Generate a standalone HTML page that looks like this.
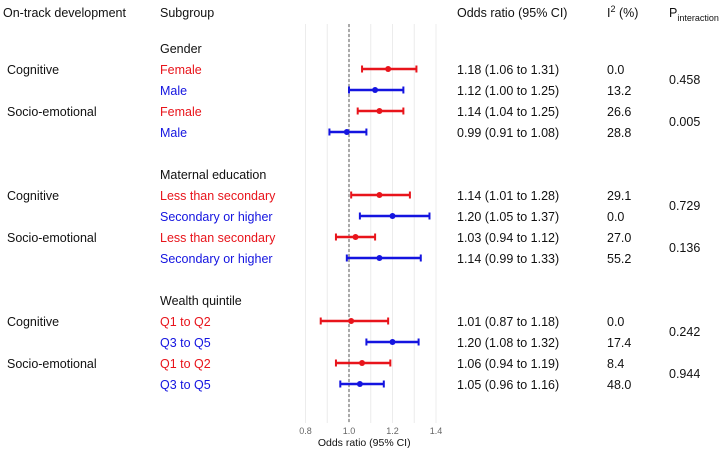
<!DOCTYPE html>
<html><head><meta charset="utf-8"><style>
body{margin:0;background:#fff;width:721px;height:449px;overflow:hidden}
svg text{font-family:"Liberation Sans",Arial,sans-serif;font-size:12.5px;fill:#111}
</style></head><body>
<svg id="chart" width="721" height="449" viewBox="0 0 721 449" xmlns="http://www.w3.org/2000/svg">
<g id="grid"></g>
<g id="heads">
<text x="3" y="17">On-track development</text>
<text x="160" y="17">Subgroup</text>
<text x="457" y="17">Odds ratio (95% CI)</text>
<text x="607" y="17">I<tspan dy="-5" font-size="9">2</tspan><tspan dy="5"> (%)</tspan></text>
<text x="669" y="17">P<tspan dy="4" font-size="9">interaction</tspan></text>
</g>
<g id="rows"></g>
<g id="marks"></g>
<g id="axis"></g>
</svg>
<script>
const labels=["Female","Male","Female","Male","Less than secondary","Secondary or higher","Less than secondary","Secondary or higher","Q1 to Q2","Q3 to Q5","Q1 to Q2","Q3 to Q5"];
const orValues=[1.18,1.12,1.14,0.99,1.14,1.20,1.03,1.14,1.01,1.20,1.06,1.05];
const lowerCI=[1.06,1.00,1.04,0.91,1.01,1.05,0.94,0.99,0.87,1.08,0.94,0.96];
const upperCI=[1.31,1.25,1.25,1.08,1.28,1.37,1.12,1.33,1.18,1.32,1.19,1.16];
const orText=["1.18 (1.06 to 1.31)","1.12 (1.00 to 1.25)","1.14 (1.04 to 1.25)","0.99 (0.91 to 1.08)","1.14 (1.01 to 1.28)","1.20 (1.05 to 1.37)","1.03 (0.94 to 1.12)","1.14 (0.99 to 1.33)","1.01 (0.87 to 1.18)","1.20 (1.08 to 1.32)","1.06 (0.94 to 1.19)","1.05 (0.96 to 1.16)"];
const i2Values=["0.0","13.2","26.6","28.8","29.1","0.0","27.0","55.2","0.0","17.4","8.4","48.0"];
const groups=["Gender","Maternal education","Wealth quintile"];
const outcomes=["Cognitive","Socio-emotional"];
const pValues=["0.458","0.005","0.729","0.136","0.242","0.944"];
const ticks=[0.8,1.0,1.2,1.4];
const gridVals=[0.8,0.9,1.0,1.1,1.2,1.3,1.4];

const NS="http://www.w3.org/2000/svg";
const x=v=>349+(v-1)*217.5;
const rowY=i=>{const g=Math.floor(i/4),k=i%4;return 69+g*126+k*21;};
function mk(tag,attrs,parent,txt){const e=document.createElementNS(NS,tag);for(const k in attrs)e.setAttribute(k,attrs[k]);if(txt!==undefined)e.textContent=txt;parent.appendChild(e);return e;}
const grid=document.getElementById('grid'),rows=document.getElementById('rows'),marks=document.getElementById('marks'),axis=document.getElementById('axis');
gridVals.forEach(v=>{const l=mk('line',{x1:x(v),x2:x(v),y1:24,y2:423,stroke:'#ececec','stroke-width':1},grid);

});
const ref=mk('line',{x1:x(1),x2:x(1),y1:24,y2:423,stroke:'#555','stroke-width':1,'stroke-dasharray':'3,2'},grid);


groups.forEach((g,gi)=>{const t=mk('text',{x:160,y:53+gi*126},rows,g);

});
for(let j=0;j<6;j++){const y0=rowY(j*2);
const t=mk('text',{x:7,y:y0+5},rows,outcomes[j%2]);


const p=mk('text',{x:669,y:y0+15},rows,pValues[j]);

}
labels.forEach((lab,i)=>{const y=rowY(i),c=i%2===0?'#e8141b':'#1414e0';
const t=mk('text',{x:160,y:y+5,style:'fill:'+c},rows,lab);


const o=mk('text',{x:457,y:y+5},rows,orText[i]);


const q=mk('text',{x:607,y:y+5},rows,i2Values[i]);


const g=mk('g',{},marks);


mk('line',{x1:x(lowerCI[i]),x2:x(upperCI[i]),y1:y,y2:y,stroke:c,'stroke-width':2.5},g);
mk('line',{x1:x(lowerCI[i]),x2:x(lowerCI[i]),y1:y-3.5,y2:y+3.5,stroke:c,'stroke-width':2},g);
mk('line',{x1:x(upperCI[i]),x2:x(upperCI[i]),y1:y-3.5,y2:y+3.5,stroke:c,'stroke-width':2},g);
mk('circle',{cx:x(orValues[i]),cy:y,r:3,fill:c},g);});
ticks.forEach(v=>{const t=mk('text',{x:x(v),y:434,'text-anchor':'middle',style:'font-size:9px;fill:#666'},axis,v.toFixed(1));

});
const at=mk('text',{x:x(1.07),y:446,'text-anchor':'middle',style:'font-size:10.5px'},axis,'Odds ratio (95% CI)');


</script>
</body></html>
